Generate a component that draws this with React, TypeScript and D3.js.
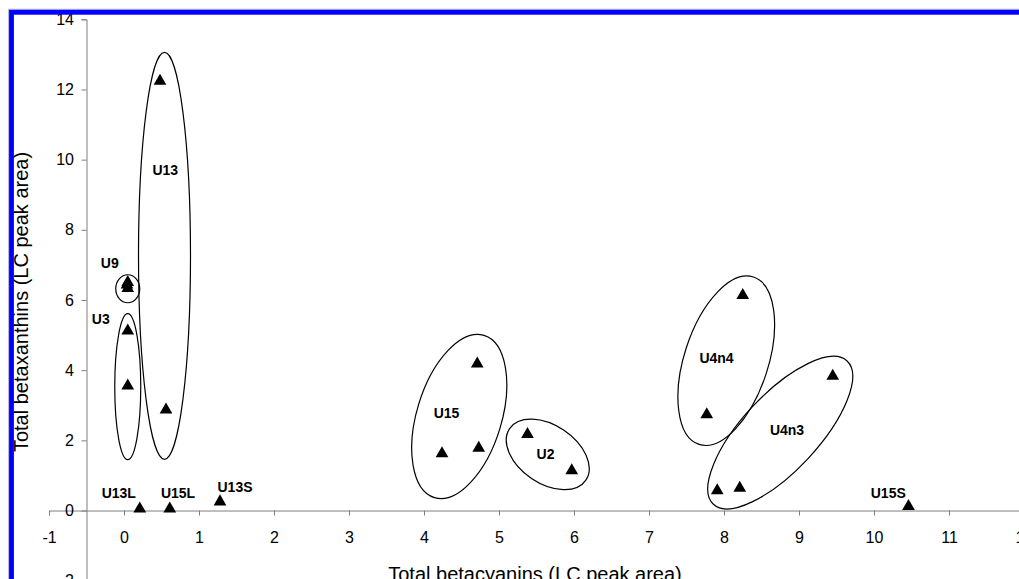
import { useEffect, useRef } from 'react'
import * as d3 from 'd3'

// samples: total betacyanins (x) vs total betaxanthins (y), LC peak area
const sampleGroup = [
  'U13', 'U13',
  'U9', 'U9', 'U9',
  'U3', 'U3',
  'U13L', 'U15L', 'U13S',
  'U15', 'U15', 'U15',
  'U2', 'U2',
  'U4n4', 'U4n4',
  'U4n3', 'U4n3', 'U4n3',
  'U15S',
]
const betacyanins = [
  0.48, 0.56,
  0.05, 0.04, 0.05,
  0.05, 0.05,
  0.21, 0.61, 1.28,
  4.71, 4.24, 4.73,
  5.38, 5.97,
  8.25, 7.77,
  9.45, 7.91, 8.21,
  10.46,
]
const betaxanthins = [
  12.19, 2.82,
  6.45, 6.38, 6.28,
  5.07, 3.5,
  0, 0, 0.2,
  4.13, 1.57, 1.73,
  2.12, 1.09,
  6.08, 2.68,
  3.78, 0.52, 0.59,
  0.07,
]

const xTicks = d3.range(-1, 13, 1)
const yTicks = d3.range(-2, 15, 2)

// group labels (text, x, y in data units)
const labelText = ['U13', 'U9', 'U3', 'U13L', 'U15L', 'U13S', 'U15', 'U2', 'U4n4', 'U4n3', 'U15S']
const labelX = [0.55, -0.19, -0.31, -0.07, 0.72, 1.48, 4.3, 5.62, 7.9, 8.84, 10.19]
const labelY = [9.7, 7.06, 5.45, 0.49, 0.49, 0.68, 2.77, 1.61, 4.34, 2.29, 0.49]

// group ellipses: centre in data units, radii in px, rotation in degrees
const ellipseCx = [0.54, 0.05, 0.05, 4.47, 5.65, 8.03, 8.75]
const ellipseCy = [7.26, 6.32, 3.53, 2.68, 1.6, 4.27, 2.22]
const ellipseRx = [26, 12, 13, 42.4, 46, 42, 98]
const ellipseRy = [203.5, 14, 73, 84.8, 29, 88, 38]
const ellipseRot = [0, 0, 0, 17, 34, 18, -47]

export default function App() {
  const ref = useRef<SVGSVGElement>(null)

  useEffect(() => {
    const W = 1019
    const H = 579
    const svg = d3.select(ref.current)
    svg.selectAll('*').remove()

    const font = '"Liberation Sans", Arial, sans-serif'
    const x = d3.scaleLinear().domain([-1, 12]).range([49, 1024])
    const y = d3.scaleLinear().domain([-2, 14]).range([580.7, 19.3])

    svg.append('rect').attr('width', W).attr('height', H).attr('fill', '#fff')

    // x axis through y = 0
    const xAxis = svg
      .append('g')
      .attr('transform', `translate(0,${y(0)})`)
      .call(d3.axisBottom(x).tickValues(xTicks).tickSizeOuter(0).tickSize(5).tickPadding(16).tickFormat((d) => String(d)))
    // y axis through x = -0.5
    const yAxis = svg
      .append('g')
      .attr('transform', `translate(${x(-0.5)},0)`)
      .call(d3.axisLeft(y).tickValues(yTicks).tickSizeOuter(0).tickSize(5).tickPadding(7.5).tickFormat((d) => String(d)))

    for (const ax of [xAxis, yAxis]) {
      ax.selectAll('path,line').attr('stroke', '#7f7f7f').attr('stroke-width', 1)
      ax.selectAll('text').attr('fill', '#000').style('font-family', font).style('font-size', '16px')
    }

    svg
      .append('text')
      .attr('x', 535)
      .attr('y', 581)
      .attr('text-anchor', 'middle')
      .style('font-family', font)
      .style('font-size', '20px')
      .text('Total betacyanins (LC peak area)')

    svg
      .append('text')
      .attr('transform', 'translate(28,302) rotate(-90)')
      .attr('text-anchor', 'middle')
      .style('font-family', font)
      .style('font-size', '20px')
      .text('Total betaxanthins (LC peak area)')

    // group ellipses
    svg
      .selectAll('ellipse.grp')
      .data(ellipseCx)
      .enter()
      .append('ellipse')
      .attr('class', 'grp')
      .attr('transform', (d, i) => `translate(${x(d)},${y(ellipseCy[i])}) rotate(${ellipseRot[i]})`)
      .attr('rx', (d, i) => ellipseRx[i])
      .attr('ry', (d, i) => ellipseRy[i])
      .attr('fill', 'none')
      .attr('stroke', '#000')
      .attr('stroke-width', 1.2)

    // triangles
    const tri = d3.symbol().type(d3.symbolTriangle).size(70)
    svg
      .selectAll('path.pt')
      .data(betacyanins)
      .enter()
      .append('path')
      .attr('class', 'pt')
      .attr('d', tri)
      .attr('transform', (d, i) => `translate(${x(d)},${y(betaxanthins[i]) - 1.8})`)
      .attr('fill', '#000')
      .append('title')
      .text((d, i) => sampleGroup[i])

    // group labels
    svg
      .selectAll('text.lbl')
      .data(labelText)
      .enter()
      .append('text')
      .attr('class', 'lbl')
      .attr('x', (d, i) => x(labelX[i]))
      .attr('y', (d, i) => y(labelY[i]) + 5)
      .attr('text-anchor', 'middle')
      .style('font-family', font)
      .style('font-size', '14px')
      .style('font-weight', 700)
      .text((d) => d)

    // blue frame
    svg
      .append('rect')
      .attr('x', 8.8)
      .attr('y', 9.3)
      .attr('width', W + 40)
      .attr('height', H + 40)
      .attr('fill', 'none')
      .attr('stroke', '#9a9ad0')
      .attr('stroke-width', 1)
    svg
      .append('rect')
      .attr('x', 11.5)
      .attr('y', 12.3)
      .attr('width', W + 40)
      .attr('height', H + 40)
      .attr('fill', 'none')
      .attr('stroke', '#0000ff')
      .attr('stroke-width', 4.8)
  }, [])

  return (
    <svg
      ref={ref}
      width={1019}
      height={579}
      style={{ position: 'absolute', left: 0, top: 0, overflow: 'hidden' }}
    />
  )
}
